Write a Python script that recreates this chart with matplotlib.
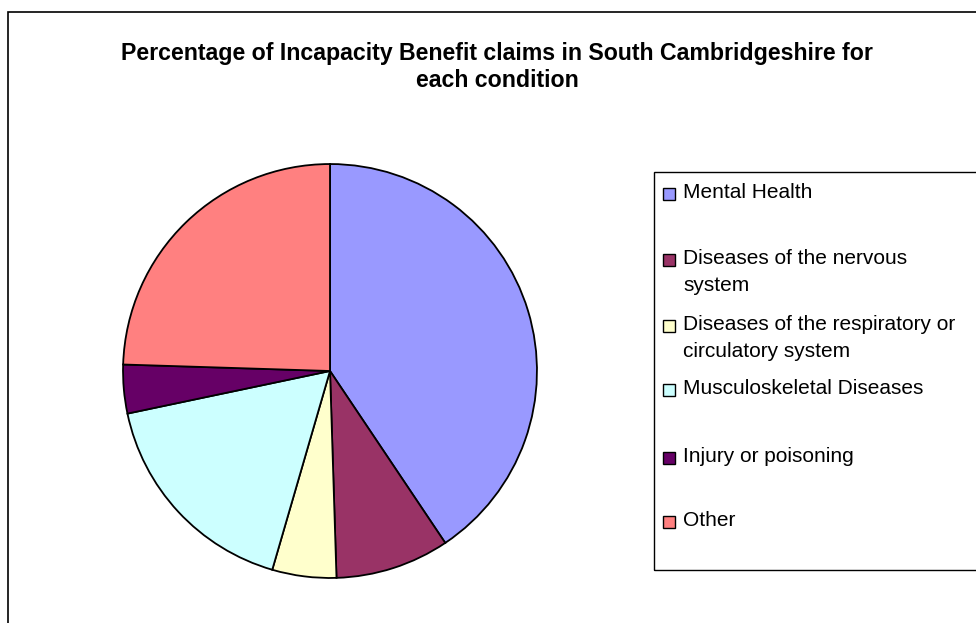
import matplotlib.pyplot as plt
from matplotlib.patches import Rectangle

plt.rcParams['font.family'] = ['Liberation Sans', 'DejaVu Sans']

# ---------------------------
# Data (percent of claims)
# ---------------------------
conditions = ["Mental Health",
              "Diseases of the nervous\nsystem",
              "Diseases of the respiratory or\ncirculatory system",
              "Musculoskeletal Diseases",
              "Injury or poisoning",
              "Other"]
shares = [40.6, 8.9, 5.0, 17.2, 3.8, 24.5]
colors = ["#9999FF", "#993366", "#FFFFCC", "#CCFFFF", "#660066", "#FF8080"]

W, H = 976, 623
fig = plt.figure(figsize=(W / 100, H / 100), dpi=100)

# outer chart border (right/bottom run off the picture)
fig.patches.append(Rectangle((8 / W, -0.02), 1.05, 1 - 12 / H + 0.02,
                             transform=fig.transFigure, fill=False,
                             edgecolor="black", linewidth=1.2))

fig.text(497 / W, 1 - 67 / H,
         "Percentage of Incapacity Benefit claims in South Cambridgeshire for\neach condition",
         ha="center", va="center", fontsize=16.7, fontweight="bold",
         linespacing=1.25)

# pie
cx, cy, r = 330, 371, 208
ax = fig.add_axes([(cx - r) / W, 1 - (cy + r) / H, 2 * r / W, 2 * r / H])
ax.pie(shares, colors=colors, startangle=90, counterclock=False,
       wedgeprops=dict(edgecolor="black", linewidth=1.3))
ax.set_xlim(-1.005, 1.005)
ax.set_ylim(-1.005, 1.005)
ax.set_aspect("auto")
ax.axis("off")

# legend box
lx0, ly0, ly1 = 654, 172, 570
fig.patches.append(Rectangle((lx0 / W, 1 - ly1 / H), 1.05, (ly1 - ly0) / H,
                             transform=fig.transFigure, fill=False,
                             edgecolor="black", linewidth=1.0))

entry_y = [193, 272, 338, 389, 457, 521]
for lab, col, yy in zip(conditions, colors, entry_y):
    first_line = yy - 13.5 if "\n" in lab else yy
    fig.patches.append(Rectangle((663 / W, 1 - (first_line + 7) / H), 12 / W, 12 / H,
                                 transform=fig.transFigure, facecolor=col,
                                 edgecolor="black", linewidth=1.0))
    fig.text(683 / W, 1 - yy / H, lab, ha="left", va="center",
             fontsize=15, linespacing=1.5)

fig.savefig("out.png", dpi=100)
